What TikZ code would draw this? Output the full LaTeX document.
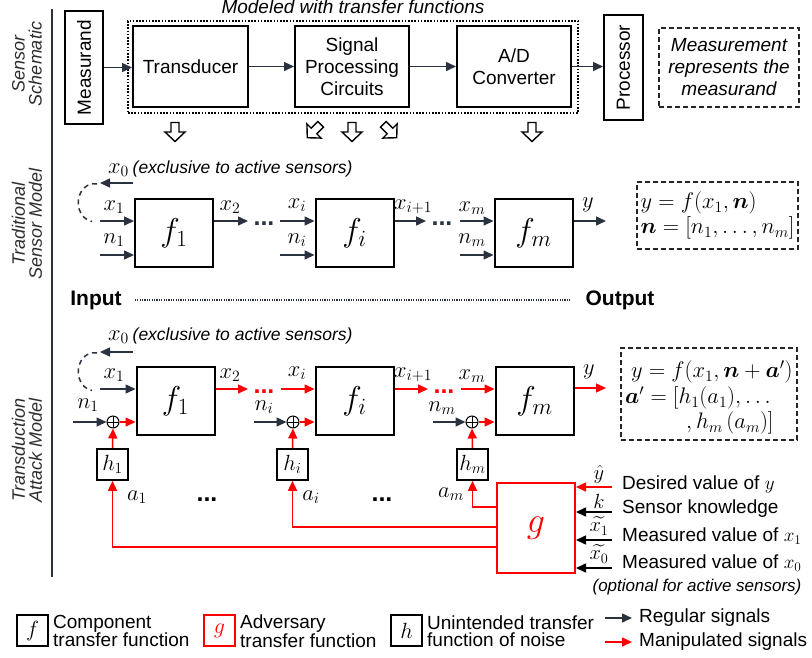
\RequirePackage{fix-cm}
\documentclass[tikz,border=0pt]{standalone}
\usepackage{amsmath}
\usepackage{fontspec}
\setmainfont{Liberation Sans}
\usetikzlibrary{arrows.meta,calc}

\definecolor{sigc}{RGB}{42,50,64}
\definecolor{atkc}{RGB}{255,0,0}
\definecolor{secc}{RGB}{45,45,45}

\tikzset{
  blk/.style={draw=black, line width=2pt, inner sep=0pt, align=center,
    font=\fontsize{19}{22}\selectfont},
  fblk/.style={draw=black, line width=2pt, inner sep=0pt,
    minimum width=78pt, minimum height=68pt, font=\fontsize{33}{33}\selectfont},
  hblk/.style={draw=black, line width=1.6pt, inner sep=0pt,
    minimum width=31pt, minimum height=31pt, font=\fontsize{22}{22}\selectfont},
  dashblk/.style={draw=black!85, line width=1.3pt, dash pattern=on 5pt off 3pt,
    inner sep=0pt},
  sigarr/.style={draw=sigc, line width=1.5pt, -{Triangle[length=10pt,width=9pt]}},
  atkarr/.style={draw=atkc, line width=1.5pt, -{Triangle[length=10pt,width=9pt]}},
  blkarr/.style={draw=black, line width=1.5pt, -{Triangle[length=10pt,width=9pt]}},
  lbl/.style={inner sep=0pt, font=\fontsize{22.5}{22.5}\selectfont},
  inlbl/.style={inner sep=0pt, font=\fontsize{20.5}{20.5}\selectfont},
  smalltxt/.style={inner sep=0pt, font=\fontsize{17}{17}\selectfont\itshape},
  rtxt/.style={inner sep=0pt, anchor=west, font=\fontsize{19}{19}\selectfont},
  dotsn/.style={inner sep=0pt, anchor=base, font=\fontsize{25}{25}\selectfont\bfseries},
  seclbl/.style={rotate=90, align=center, inner sep=0pt, text=secc,
    font=\fontsize{18}{17}\selectfont\itshape},
  oplus/.style={circle, draw=black, line width=1pt, minimum size=12pt, inner sep=0pt,
    path picture={\draw[line width=1pt]
      (path picture bounding box.north) -- (path picture bounding box.south)
      (path picture bounding box.west) -- (path picture bounding box.east);}},
  legtxt/.style={inner sep=0pt, anchor=west, align=left, font=\fontsize{19}{17}\selectfont},
}

% hollow block arrow: #1 = centre, #2 = rotation
\newcommand\hollowarr[2]{%
  \draw[line width=1.4pt, fill=white, line join=miter, shift={#1}, rotate=#2]
    (-4,-9.5) -- (4,-9.5) -- (4,0) -- (10,0) -- (0,9.5) -- (-10,0) -- (-4,0) -- cycle;}

\begin{document}
\begin{tikzpicture}[x=1pt, y=-1pt]
\fill[white] (0,0) rectangle (812,657);
\useasboundingbox (0,0) rectangle (812,657);

% ---------- section labels and divider ----------
\draw[draw=sigc, line width=2pt] (52,9) -- (52,577);
\node[seclbl] (sec1) at (27,64) {Sensor\\Schematic};
\node[seclbl] (sec2) at (27,224) {Traditional\\Sensor Model};
\node[seclbl] (sec3) at (27,450) {Transduction\\Attack Model};

% ---------- sensor schematic ----------
\node[inner sep=0pt, font=\fontsize{19}{19}\selectfont\itshape] (modlbl) at (353,7) {Modeled with transfer functions};
\node[draw=black, line width=1.7pt, dash pattern=on 1.6pt off 1.6pt, inner sep=0pt,
      minimum width=450pt, minimum height=92pt] (model) at (353,67) {};
\node[blk, rotate=90, minimum width=113pt, minimum height=38pt] (meas) at (84,67.5) {Measurand};
\node[blk, minimum width=115pt, minimum height=81pt] (trans) at (190.5,66.5) {Transducer};
\node[blk, minimum width=114pt, minimum height=81pt] (spc) at (352,66.5) {Signal\\Processing\\Circuits};
\node[blk, minimum width=114pt, minimum height=81pt] (adc) at (514,66.5) {A/D\\Converter};
\node[blk, rotate=90, minimum width=105pt, minimum height=39pt] (proc) at (623.5,67.5) {Processor};
\node[dashblk, minimum width=140pt, minimum height=79pt, align=center,
      font=\fontsize{19}{22}\selectfont\itshape] (mtxt) at (729,67.5) {Measurement\\represents the\\measurand};

\draw[sigarr] (meas.south) -- (meas.south -| trans.west);
\draw[sigarr] (trans.east) -- (spc.west);
\draw[sigarr] (spc.east) -- (adc.west);
\draw[sigarr] (adc.east) -- (adc.east -| proc.north);

\hollowarr{(175,132)}{0}
\hollowarr{(314,131)}{-45}
\hollowarr{(352,132)}{0}
\hollowarr{(390,131)}{45}
\hollowarr{(532,132)}{0}

% ---------- traditional sensor model ----------
\node[lbl, anchor=west] (x0a) at (108,169) {$x_0$\,{\fontsize{17.5}{17.5}\selectfont\itshape (exclusive to active sensors)}};
\coordinate (x0aS) at (133,183);
\coordinate (x0aE) at (100,183);
\draw[sigarr] (x0aS) -- (x0aE);
\draw[draw=sigc, line width=1.5pt, dash pattern=on 5pt off 4pt] (97,184) arc[start angle=80, end angle=262, x radius=16pt, y radius=19pt];

\node[fblk] (f1) at (174,233) {$f_1$};
\node[fblk] (fi) at (354.5,233) {$f_i$};
\node[fblk] (fm) at (533.5,233) {$f_m$};

\coordinate (x1a) at (100,221);
\coordinate (n1a) at (100,255);
\coordinate (x2a) at (248,221);
\coordinate (xia) at (280,221);
\coordinate (nia) at (280,255);
\coordinate (xi1a) at (426,221);
\coordinate (xma) at (460,221);
\coordinate (nma) at (460,255);
\coordinate (ya) at (606,221);

\draw[sigarr] (x1a) -- (x1a -| f1.west);
\draw[sigarr] (n1a) -- (n1a -| f1.west);
\draw[sigarr] (x2a -| f1.east) -- (x2a);
\draw[sigarr] (xia) -- (xia -| fi.west);
\draw[sigarr] (nia) -- (nia -| fi.west);
\draw[sigarr] (xi1a -| fi.east) -- (xi1a);
\draw[sigarr] (xma) -- (xma -| fm.west);
\draw[sigarr] (nma) -- (nma -| fm.west);
\draw[sigarr] (ya -| fm.east) -- (ya);

\node[dotsn, text=sigc] (d1a) at (264,225) {...};
\node[dotsn, text=sigc] (d2a) at (442,225) {...};

\node[lbl] (lx1a) at (114,207) {$x_1$};
\node[lbl] (ln1a) at (114,240) {$n_1$};
\node[lbl] (lx2a) at (230,207) {$x_2$};
\node[lbl] (lxia) at (297,205) {$x_i$};
\node[lbl] (lnia) at (297,240) {$n_i$};
\node[lbl] (lxi1a) at (413,207) {$x_{i+1}$};
\node[lbl] (lxma) at (472,208) {$x_m$};
\node[lbl] (lnma) at (472,240) {$n_m$};
\node[lbl] (lya) at (588,205) {$y$};

\node[dashblk, minimum width=161pt, minimum height=67pt, align=left,
      font=\fontsize{22.5}{25}\selectfont] (eq1) at (717.5,215.5)
      {$y = f(x_1,\boldsymbol{n})$\\$\boldsymbol{n} = [n_1,\ldots,n_m]$};

\node[inner sep=0pt, font=\fontsize{21}{21}\selectfont\bfseries] (inp) at (96,300) {Input};
\node[inner sep=0pt, font=\fontsize{21}{21}\selectfont\bfseries] (outp) at (620,300) {Output};
\draw[draw=sigc, line width=1.2pt, dash pattern=on 1.2pt off 1.2pt]
  ([xshift=13pt]inp.east) -- ([xshift=-14pt]outp.west);

% ---------- transduction attack model ----------
\node[lbl, anchor=west] (x0b) at (108,336) {$x_0$\,{\fontsize{17.5}{17.5}\selectfont\itshape (exclusive to active sensors)}};
\coordinate (x0bS) at (133,352);
\coordinate (x0bE) at (100,352);
\draw[sigarr] (x0bS) -- (x0bE);
\draw[draw=sigc, line width=1.5pt, dash pattern=on 5pt off 4pt] (97,353) arc[start angle=80, end angle=262, x radius=16pt, y radius=19pt];

\node[fblk] (f1b) at (175.5,401) {$f_1$};
\node[fblk] (fib) at (354.5,401) {$f_i$};
\node[fblk] (fmb) at (534.5,401) {$f_m$};

\node[oplus] (p1) at (113,422) {};
\node[oplus] (pi) at (293,422) {};
\node[oplus] (pm) at (472,422) {};

\node[hblk] (h1) at (112.5,464.5) {$h_1$};
\node[hblk] (hi) at (292.5,464.5) {$h_i$};
\node[hblk] (hm) at (472.5,464.5) {$h_m$};

\node[draw=atkc, line width=2pt, inner sep=0pt, minimum width=78pt, minimum height=90pt,
      text=atkc, font=\fontsize{36}{36}\selectfont] (g) at (536,528) {$g$};

\coordinate (x1b) at (100,389);
\coordinate (n1b) at (73,422);
\coordinate (x2b) at (248,389);
\coordinate (xib) at (281,389);
\coordinate (nib) at (254,422);
\coordinate (xi1b) at (428,389);
\coordinate (xmb) at (461,389);
\coordinate (nmb) at (433,422);
\coordinate (yb) at (606,388);

\draw[sigarr] (x1b) -- (x1b -| f1b.west);
\draw[sigarr] (n1b) -- (p1.west);
\draw[atkarr] (p1.east) -- (p1.east -| f1b.west);
\draw[atkarr] (x2b -| f1b.east) -- (x2b);
\draw[atkarr] (xib) -- (xib -| fib.west);
\draw[sigarr] (nib) -- (pi.west);
\draw[atkarr] (pi.east) -- (pi.east -| fib.west);
\draw[atkarr] (xi1b -| fib.east) -- (xi1b);
\draw[atkarr] (xmb) -- (xmb -| fmb.west);
\draw[sigarr] (nmb) -- (pm.west);
\draw[atkarr] (pm.east) -- (pm.east -| fmb.west);
\draw[atkarr] (yb -| fmb.east) -- (yb);

\draw[atkarr] (h1.north) -- (p1.south);
\draw[atkarr] (hi.north) -- (pi.south);
\draw[atkarr] (hm.north) -- (pm.south);

\node[dotsn, text=atkc] (d1b) at (264,393) {...};
\node[dotsn, text=atkc] (d2b) at (444,393) {...};

% adversary outputs to the noise paths
\coordinate (ga1) at (497,547);
\coordinate (gai) at (497,527);
\coordinate (gam) at (497,507);
\draw[atkarr] (ga1) -| (h1.south);
\draw[atkarr] (gai) -| (hi.south);
\draw[atkarr] (gam) -| (hm.south);

\node[lbl] (lx1b) at (114,375) {$x_1$};
\node[lbl] (ln1b) at (88,405) {$n_1$};
\node[lbl] (lx2b) at (230,375) {$x_2$};
\node[lbl] (lxib) at (297,373) {$x_i$};
\node[lbl] (lnib) at (264,407) {$n_i$};
\node[lbl] (lxi1b) at (413,375) {$x_{i+1}$};
\node[lbl] (lxmb) at (472,376) {$x_m$};
\node[lbl] (lnmb) at (442,408) {$n_m$};
\node[lbl] (lyb) at (589,372) {$y$};
\node[lbl] (la1) at (137,497) {$a_1$};
\node[lbl] (lai) at (311,497) {$a_i$};
\node[lbl] (lam) at (451,494) {$a_m$};
\node[dotsn] (d3) at (207,501) {...};
\node[dotsn] (d4) at (382,501) {...};

\node[dashblk, minimum width=176pt, minimum height=92pt] (eq2) at (709,394) {};
\node[lbl, anchor=west, font=\fontsize{22.5}{22.5}\selectfont] (eq2a) at (631,372) {$y = f(x_1,\boldsymbol{n}+\boldsymbol{a}')$};
\node[lbl, anchor=west, font=\fontsize{22.5}{22.5}\selectfont] (eq2b) at (625,398) {$\boldsymbol{a}' = [h_1(a_1),\ldots$};
\node[lbl, anchor=west, font=\fontsize{22.5}{22.5}\selectfont] (eq2c) at (686,423) {$,h_m\,(a_m)]$};

% adversary inputs
\coordinate (yhin) at (612,487);
\coordinate (kin) at (612,512);
\coordinate (x1tin) at (612,540);
\coordinate (x0tin) at (612,568);
\draw[atkarr] (yhin) -- (yhin -| g.east);
\draw[blkarr] (kin) -- (kin -| g.east);
\draw[blkarr] (x1tin) -- (x1tin -| g.east);
\draw[blkarr] (x0tin) -- (x0tin -| g.east);

\node[inlbl] (lyh) at (599,474) {$\hat{y}$};
\node[inlbl] (lk) at (599,501) {$k$};
\node[inlbl] (lx1t) at (599,526) {$\widetilde{x_1}$};
\node[inlbl] (lx0t) at (599,554) {$\widetilde{x_0}$};

\node[rtxt] (t1) at (622,484) {Desired value of $y$};
\node[rtxt] (t2) at (622,509) {Sensor knowledge};
\node[rtxt] (t3) at (622,536) {Measured value of $x_1$};
\node[rtxt] (t4) at (622,563) {Measured value of $x_0$};
\node[smalltxt] (t5) at (697,587) {(optional for active sensors)};

% ---------- legend ----------
\node[hblk, line width=1.5pt] (lf) at (32.5,630.5) {$f$};
\node[legtxt] (lft) at (53,631) {Component\\transfer function};
\node[hblk, draw=atkc, line width=1.5pt, text=atkc] (lg) at (219.5,630.5) {$g$};
\node[legtxt] (lgt) at (240,631) {Adversary\\transfer function};
\node[hblk, line width=1.5pt] (lh) at (406.5,630.5) {$h$};
\node[legtxt] (lht) at (427,631) {Unintended transfer\\function of noise};
\coordinate (rs) at (605,618);
\coordinate (re) at (632,618);
\coordinate (ms) at (605,642);
\coordinate (me) at (632,642);
\draw[sigarr] (rs) -- (re);
\draw[atkarr] (ms) -- (me);
\node[legtxt] (rt) at (639,618) {Regular signals};
\node[legtxt] (mt) at (639,642) {Manipulated signals};
\end{tikzpicture}
\end{document}
